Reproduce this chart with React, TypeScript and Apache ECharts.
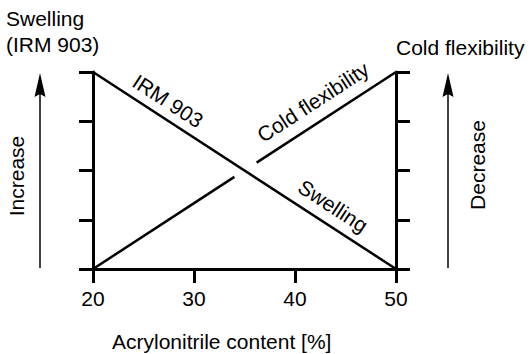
import React, { useEffect, useRef } from "react";
import * as echarts from "echarts";

const xTicks = [20, 30, 40, 50];
const swellingX = [20, 50];
const swellingY = [4, 0];
const coldLowX = [20, 34];
const coldLowY = [0, 1.87];
const coldHighX = [36.2, 50];
const coldHighY = [2.16, 4];

const FONT = "'Liberation Sans', Arial, Helvetica, sans-serif";
const FS = 21;
const INK = "#000";
const ANG = Math.atan(197 / 303);

function pairs(xs: number[], ys: number[]) {
  return xs.map((x, i) => [x, ys[i]]);
}

function txt(text: string, x: number, y: number, rotation = 0, align = "center") {
  return {
    type: "text",
    x,
    y,
    rotation,
    style: {
      text,
      fill: INK,
      font: `${FS}px ${FONT}`,
      align,
      verticalAlign: "middle",
    },
  };
}

function arrow(x: number) {
  return [
    {
      type: "line",
      shape: { x1: x, y1: 268, x2: x, y2: 92 },
      style: { stroke: INK, lineWidth: 1.5 },
    },
    {
      type: "polygon",
      shape: { points: [[x, 73], [x - 5.5, 97], [x, 94], [x + 5.5, 97]] },
      style: { fill: INK },
    },
  ];
}

const yAxisBase = (position: string) => ({
  type: "value",
  min: 0,
  max: 4,
  interval: 1,
  position,
  axisLine: { show: true, onZero: false, lineStyle: { color: INK, width: 3 } },
  axisTick: { show: true, length: 14, lineStyle: { color: INK, width: 3 } },
  axisLabel: { show: false },
  splitLine: { show: false },
});

export default function App() {
  const ref = useRef<HTMLDivElement>(null);
  useEffect(() => {
    if (!ref.current) return;
    const chart = echarts.init(ref.current, undefined, { renderer: "svg" });
    const lineStyle = { color: INK, width: 2.5 };
    chart.setOption({
      animation: false,
      backgroundColor: "#fff",
      grid: { left: 93, right: 134, top: 72, bottom: 85 },
      xAxis: {
        type: "value",
        min: xTicks[0],
        max: xTicks[xTicks.length - 1],
        interval: 10,
        axisLine: { show: true, onZero: false, lineStyle: { color: INK, width: 3 } },
        axisTick: { show: true, length: 14, lineStyle: { color: INK, width: 3 } },
        axisLabel: { color: INK, fontSize: FS, fontFamily: FONT, margin: 19 },
        splitLine: { show: false },
      },
      yAxis: [yAxisBase("left"), yAxisBase("right")],
      series: [
        { type: "line", data: pairs(swellingX, swellingY), symbol: "none", lineStyle },
        { type: "line", data: pairs(coldLowX, coldLowY), symbol: "none", lineStyle },
        { type: "line", data: pairs(coldHighX, coldHighY), symbol: "none", lineStyle },
      ],
      graphic: [
        txt("Swelling", 6, 18, 0, "left"),
        txt("(IRM 903)", 6, 44, 0, "left"),
        txt("Cold flexibility", 396, 47, 0, "left"),
        txt("Increase", 16, 176, Math.PI / 2),
        txt("Decrease", 477, 165, Math.PI / 2),
        txt("IRM 903", 168, 101, -ANG),
        txt("Cold flexibility", 313, 102, ANG),
        txt("Swelling", 333, 206, -ANG),
        txt("Acrylonitrile content [%]", 112, 341, 0, "left"),
        ...arrow(40),
        ...arrow(448),
      ],
    });
    return () => chart.dispose();
  }, []);
  return (
    <div
      ref={ref}
      style={{ position: "fixed", left: 0, top: 0, width: 530, height: 354 }}
    />
  );
}
